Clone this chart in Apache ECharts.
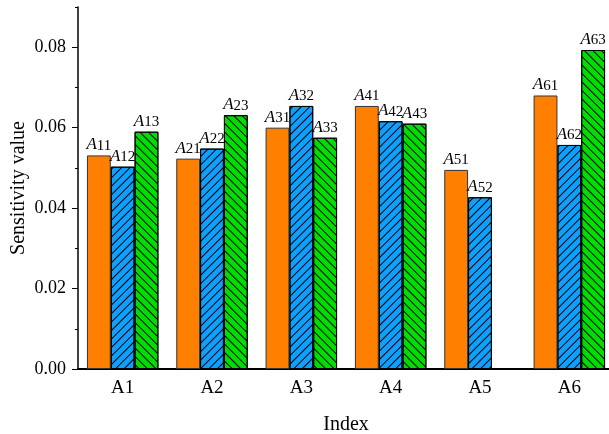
<!DOCTYPE html>
<html>
<head>
<meta charset="utf-8">
<script src="https://cdn.jsdelivr.net/npm/echarts@6/dist/echarts.min.js"></script>
<style>html,body{margin:0;padding:0;background:#fff}#c{width:609px;height:434px}</style>
</head>
<body>
<div id="c"></div>
<script>
var categories = ['A1', 'A2', 'A3', 'A4', 'A5', 'A6'];
var series1 = [0.0531, 0.0523, 0.0600, 0.0654, 0.0495, 0.0680];
var series2 = [0.0503, 0.0548, 0.0654, 0.0616, 0.0427, 0.0557];
var series3 = [0.0590, 0.0631, 0.0575, 0.0610, '-', 0.0793];
var yLabelValues = [0, 0.02, 0.04, 0.06, 0.08];
var yAxisName = 'Sensitivity value';
var xAxisName = 'Index';

var FONT = "'Liberation Serif', 'Times New Roman', serif";
var colors = ['#ff8000', '#0ea0ff', '#00dd00'];

function makeLabel(si) {
  return {
    show: true,
    position: 'top',
    distance: 2,
    formatter: function (p) { return '{a|A}{s|' + (p.dataIndex + 1) + (si + 1) + '}'; },
    rich: {
      a: { fontFamily: FONT, fontStyle: 'italic', fontSize: 17, color: '#000', lineHeight: 17, verticalAlign: 'top' },
      s: { fontFamily: FONT, fontSize: 15, color: '#000', lineHeight: 15, padding: [5, 0, 0, 0], verticalAlign: 'bottom' }
    }
  };
}

function makeDecal(rot) {
  return { symbol: 'rect', symbolSize: 1, dashArrayX: [1, 0], dashArrayY: [1, 5], rotation: rot, color: '#000' };
}

var chart = echarts.init(document.getElementById('c'), null, { renderer: 'canvas' });
chart.setOption({
  animation: false,
  backgroundColor: '#fff',
  grid: { left: 78, right: -5, top: 7, bottom: 65, containLabel: false, outerBoundsMode: 'none' },
  xAxis: [{
    type: 'category',
    data: categories,
    name: xAxisName,
    nameLocation: 'middle',
    nameGap: 46,
    nameMoveOverlap: false,
    nameTextStyle: { fontFamily: FONT, fontSize: 20, color: '#000' },
    axisLine: { lineStyle: { color: '#000', width: 2 } },
    axisTick: { alignWithLabel: true, length: 6, lineStyle: { color: '#000', width: 1 } },
    axisLabel: { fontFamily: FONT, fontSize: 19, color: '#000', margin: 10 },
    splitLine: { show: false }
  }, {
    type: 'category',
    data: categories,
    position: 'bottom',
    axisLine: { show: false },
    axisTick: { length: 3, lineStyle: { color: '#000', width: 1 } },
    axisLabel: { show: false },
    splitLine: { show: false }
  }],
  yAxis: [{
    type: 'value',
    min: 0, max: 0.09, interval: 0.01,
    name: yAxisName,
    nameLocation: 'middle',
    nameGap: 49,
    nameMoveOverlap: false,
    nameTextStyle: { fontFamily: FONT, fontSize: 20, color: '#000' },
    axisLine: { show: true, lineStyle: { color: '#000', width: 1.5 } },
    axisTick: { show: true, length: 6, customValues: yLabelValues, lineStyle: { color: '#000', width: 1 } },
    axisLabel: { fontFamily: FONT, fontSize: 18, color: '#000', margin: 12, customValues: yLabelValues,
      formatter: function (v) { return v.toFixed(2); } },
    splitLine: { show: false }
  }, {
    type: 'value',
    min: 0, max: 0.09, interval: 0.01,
    position: 'left',
    axisLine: { show: false },
    axisTick: { show: true, length: 3, lineStyle: { color: '#000', width: 1 } },
    axisLabel: { show: false },
    splitLine: { show: false }
  }],
  series: [{
    type: 'bar', data: series1, barGap: '0%', barCategoryGap: '20%',
    itemStyle: { color: colors[0], borderColor: '#333', borderWidth: 1 },
    label: makeLabel(0)
  }, {
    type: 'bar', data: series2, barGap: '0%', barCategoryGap: '20%',
    itemStyle: { color: colors[1], borderColor: '#000', borderWidth: 1, decal: makeDecal(-Math.PI / 4) },
    label: makeLabel(1)
  }, {
    type: 'bar', data: series3, barGap: '0%', barCategoryGap: '20%',
    itemStyle: { color: colors[2], borderColor: '#000', borderWidth: 1, decal: makeDecal(Math.PI / 4) },
    label: makeLabel(2)
  }]
});
</script>
</body>
</html>
